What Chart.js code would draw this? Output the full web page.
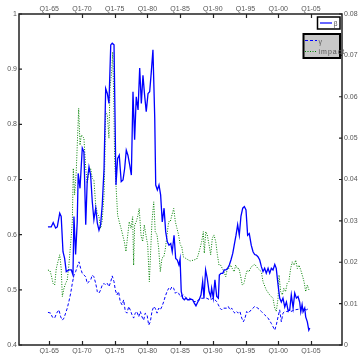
<!DOCTYPE html>
<html><head><meta charset="utf-8">
<script src="https://cdn.jsdelivr.net/npm/chart.js@4.4.1/dist/chart.umd.min.js"></script>
<style>html,body{margin:0;padding:0;background:#fff;}canvas{display:block;}</style>
</head><body>
<canvas id="c" width="360" height="354"></canvas>
<script>
// x positions are quarters counted from 1965Q1
const betaQ = [-0.8,1.2,2.4,3.9,4.9,6.4,7.3,8.4,9.4,10.4,12.0,13.5,14.5,15.1,16.1,17.1,17.7,18.8,20.2,21.2,22.3,23.2,24.3,25.3,26.3,27.3,28.4,29.4,30.4,31.4,32.4,33.5,34.5,35.5,36.5,37.6,38.5,39.6,40.8,41.8,42.8,44.0,45.1,46.1,47.1,48.1,49.2,50.2,51.2,52.2,53.2,54.3,55.3,56.3,57.3,58.3,59.3,60.4,61.4,62.4,63.4,64.5,65.1,66.1,67.1,68.1,69.1,70.2,71.2,72.2,73.2,74.3,75.2,76.3,77.3,78.3,79.3,80.0,80.7,81.6,82.6,83.6,84.6,85.6,86.7,87.7,88.7,89.7,90.8,91.7,92.8,93.8,94.6,95.6,96.6,97.7,98.7,99.3,100.3,101.3,102.4,103.4,104.0,105.0,106.1,107.0,108.1,109.1,110.1,111.1,112.2,113.1,114.2,115.2,116.2,117.2,118.3,119.3,120.3,121.3,122.3,123.5,124.6,125.6,126.6,127.6,128.7,129.7,130.7,131.7,132.7,133.8,134.8,135.8,136.8,137.9,138.8,139.9,140.9,141.9,142.9,144.0,145.0,146.0,147.0,148.0,149.1,150.1,151.1,152.1,153.1,153.8,154.6,155.2,156.2,156.8,157.8,158.7,159.3];
const betaV = [0.614,0.614,0.622,0.612,0.614,0.639,0.633,0.569,0.557,0.533,0.536,0.536,0.527,0.633,0.564,0.623,0.711,0.684,0.757,0.750,0.618,0.696,0.723,0.708,0.660,0.627,0.648,0.621,0.608,0.618,0.654,0.720,0.865,0.856,0.838,0.944,0.947,0.944,0.690,0.738,0.744,0.696,0.699,0.720,0.753,0.744,0.726,0.708,0.859,0.772,0.850,0.826,0.902,0.838,0.889,0.853,0.823,0.856,0.859,0.895,0.935,0.811,0.690,0.681,0.690,0.672,0.623,0.648,0.605,0.587,0.581,0.584,0.569,0.599,0.557,0.554,0.545,0.556,0.497,0.485,0.482,0.485,0.482,0.482,0.483,0.482,0.476,0.471,0.478,0.482,0.491,0.515,0.485,0.536,0.521,0.497,0.488,0.503,0.485,0.518,0.488,0.485,0.527,0.530,0.530,0.536,0.536,0.539,0.545,0.554,0.566,0.581,0.599,0.618,0.599,0.633,0.648,0.651,0.645,0.599,0.602,0.581,0.569,0.564,0.563,0.560,0.554,0.542,0.533,0.539,0.530,0.539,0.530,0.539,0.536,0.546,0.539,0.509,0.485,0.478,0.485,0.469,0.478,0.463,0.463,0.491,0.467,0.494,0.485,0.488,0.478,0.460,0.473,0.460,0.467,0.451,0.442,0.427,0.431];

const gammaQ = [-0.8,0.9,1.8,3.3,4.5,5.9,7.0,8.0,9.0,10.0,11.0,12.0,13.1,14.1,15.1,16.1,17.1,18.2,19.2,20.2,21.2,22.3,23.2,24.3,25.3,26.3,27.3,28.4,29.4,30.4,31.4,32.4,33.5,34.5,35.5,36.5,37.6,38.5,39.6,40.4,41.4,42.4,43.4,44.5,45.5,46.5,47.5,48.6,49.5,50.6,51.6,52.6,53.6,54.7,55.7,56.7,57.7,58.7,59.8,60.8,61.8,62.8,63.9,64.8,65.9,66.9,67.9,68.9,70.0,70.9,72.0,73.0,74.0,75.0,76.1,77.1,78.1,79.1,80.1,82.0,84.0,86.1,88.1,90.2,92.2,94.2,96.3,98.3,100.3,102.4,103.4,104.4,105.4,106.4,108.5,109.5,110.5,111.6,112.5,113.6,114.6,115.6,116.6,117.7,118.7,119.7,120.7,121.7,123.5,125.6,127.6,129.7,131.7,133.8,135.8,137.9,138.8,139.9,140.9,141.9,142.9,144.0,145.0,147.2,150.2,153.2,155.1,157.2,159.1];
const gammaV = [0.0079,0.0077,0.0068,0.0065,0.0077,0.0085,0.0068,0.0060,0.0065,0.0077,0.0089,0.0105,0.0125,0.0149,0.0169,0.0177,0.0189,0.0201,0.0185,0.0173,0.0169,0.0165,0.0149,0.0153,0.0157,0.0169,0.0165,0.0149,0.0129,0.0125,0.0133,0.0145,0.0149,0.0145,0.0149,0.0141,0.0153,0.0167,0.0153,0.0133,0.0121,0.0129,0.0105,0.0097,0.0109,0.0081,0.0077,0.0093,0.0085,0.0073,0.0065,0.0077,0.0081,0.0068,0.0081,0.0068,0.0060,0.0077,0.0073,0.0048,0.0056,0.0081,0.0093,0.0089,0.0077,0.0089,0.0085,0.0093,0.0105,0.0117,0.0129,0.0137,0.0133,0.0141,0.0137,0.0125,0.0129,0.0125,0.0117,0.0121,0.0113,0.0113,0.0105,0.0105,0.0113,0.0113,0.0113,0.0109,0.0113,0.0105,0.0097,0.0089,0.0085,0.0089,0.0089,0.0093,0.0085,0.0089,0.0081,0.0077,0.0081,0.0077,0.0081,0.0065,0.0056,0.0065,0.0081,0.0077,0.0085,0.0093,0.0089,0.0081,0.0073,0.0065,0.0052,0.0036,0.0048,0.0068,0.0085,0.0056,0.0077,0.0081,0.0081,0.0080,0.0085,0.0087,0.0089,0.0085,0.0089];

const impactQ = [-0.8,0.4,1.2,2.3,3.3,4.3,5.3,6.4,7.3,8.0,9.0,10.0,11.0,12.0,13.1,14.1,14.7,15.5,16.5,17.6,18.0,18.8,19.6,20.6,21.2,22.3,23.2,24.3,25.3,26.3,27.3,28.4,29.4,30.4,31.4,32.4,33.5,34.1,34.5,35.5,36.5,37.1,38.2,38.8,39.4,40.0,40.8,41.8,42.8,43.9,44.9,45.9,46.9,48.0,48.9,50.0,51.0,51.6,52.2,53.2,54.3,55.0,56.1,57.1,58.1,59.1,60.2,61.2,62.0,62.8,63.9,64.8,65.9,66.9,67.9,68.9,70.0,70.9,72.0,73.0,74.0,75.0,76.1,77.1,78.1,79.1,80.1,81.0,82.0,84.0,86.1,88.1,90.2,91.1,92.2,93.2,94.2,94.8,95.7,96.6,97.7,98.7,99.7,100.7,101.8,102.8,103.8,104.8,105.8,106.9,107.9,108.9,109.9,110.9,111.9,113.0,114.0,115.0,116.0,117.1,118.0,119.1,120.1,121.1,122.1,123.5,125.6,127.6,129.7,130.7,132.7,134.8,136.8,137.9,138.8,139.9,140.5,141.5,142.5,143.4,144.5,145.5,146.5,147.6,148.6,149.7,150.7,151.7,152.7,153.8,154.7,155.8,156.8,157.8,158.8];
const impactV = [0.0181,0.0180,0.0169,0.0149,0.0145,0.0185,0.0201,0.0218,0.0185,0.0117,0.0137,0.0149,0.0157,0.0193,0.0246,0.0298,0.0427,0.0363,0.0419,0.0532,0.0572,0.0483,0.0508,0.0503,0.0500,0.0427,0.0391,0.0419,0.0427,0.0403,0.0399,0.0338,0.0318,0.0310,0.0282,0.0302,0.0363,0.0467,0.0564,0.0556,0.0500,0.0620,0.0661,0.0708,0.0604,0.0443,0.0387,0.0314,0.0298,0.0282,0.0266,0.0250,0.0226,0.0266,0.0298,0.0282,0.0310,0.0193,0.0290,0.0298,0.0314,0.0330,0.0266,0.0250,0.0290,0.0266,0.0242,0.0153,0.0226,0.0298,0.0346,0.0274,0.0266,0.0234,0.0177,0.0210,0.0213,0.0230,0.0266,0.0298,0.0298,0.0314,0.0330,0.0298,0.0282,0.0266,0.0242,0.0238,0.0213,0.0208,0.0203,0.0205,0.0208,0.0218,0.0234,0.0250,0.0274,0.0222,0.0274,0.0266,0.0242,0.0218,0.0258,0.0266,0.0250,0.0218,0.0193,0.0193,0.0185,0.0177,0.0165,0.0185,0.0185,0.0193,0.0185,0.0177,0.0193,0.0185,0.0185,0.0165,0.0145,0.0149,0.0169,0.0181,0.0177,0.0189,0.0195,0.0185,0.0177,0.0153,0.0133,0.0121,0.0113,0.0089,0.0081,0.0113,0.0169,0.0129,0.0121,0.0137,0.0129,0.0149,0.0153,0.0185,0.0201,0.0193,0.0205,0.0185,0.0193,0.0181,0.0169,0.0153,0.0129,0.0145,0.0133];

const xTickQ = [0,20,40,60,80,100,120,140,160];
const xTickLabels = ['Q1-65','Q1-70','Q1-75','Q1-80','Q1-85','Q1-90','Q1-95','Q1-00','Q1-05'];
const seriesNames = ['\u03b2','\u03b3','impact'];

const pts = (q, v) => q.map((x, i) => ({x: x, y: v[i]}));
const FONT = {family: 'Liberation Sans, Arial, sans-serif', size: 7};
const TXT = '#555';

const xCommon = (pos, h) => ({
  type: 'linear', position: pos, min: -18.5, max: 179,
  grid: {display: false, drawTicks: false}, border: {display: false},
  afterBuildTicks: s => { s.ticks = xTickQ.map(v => ({value: v})); },
  afterFit: s => { s.height = h; },
  ticks: {font: FONT, color: TXT, padding: pos === 'top' ? 1 : 2, maxRotation: 0, autoSkip: false,
    callback: v => { const i = xTickQ.indexOf(v); return i >= 0 ? xTickLabels[i] : ''; }}
});

const framePlugin = {
  id: 'frame',
  afterDraw(chart) {
    const c = chart.ctx, a = chart.chartArea, s = chart.scales;
    c.save();
    c.strokeStyle = '#222'; c.lineWidth = 1.5;
    c.strokeRect(a.left, a.top, a.right - a.left, a.bottom - a.top);
    c.lineWidth = 1.2;
    c.beginPath();
    xTickQ.forEach(v => {
      const px = Math.round(s.x.getPixelForValue(v)) + 0.5;
      c.moveTo(px, a.top); c.lineTo(px, a.top + 4);
      c.moveTo(px, a.bottom); c.lineTo(px, a.bottom - 4);
    });
    s.y.ticks.forEach(t => { const py = s.y.getPixelForValue(t.value); c.moveTo(a.left, py); c.lineTo(a.left + 3, py); });
    s.yR.ticks.forEach(t => { const py = s.yR.getPixelForValue(t.value); c.moveTo(a.right, py); c.lineTo(a.right - 3, py); });
    c.stroke();

    // legend 1 (beta)
    const ds = chart.data.datasets;
    c.fillStyle = '#fff'; c.fillRect(317.5, 17, 22.5, 12);
    c.strokeStyle = '#000'; c.lineWidth = 1.5; c.strokeRect(317.5, 17, 22.5, 12);
    c.strokeStyle = ds[0].borderColor; c.lineWidth = 1.2; c.setLineDash([]);
    c.beginPath(); c.moveTo(320, 23); c.lineTo(332, 23); c.stroke();
    c.fillStyle = TXT; c.font = '7px Liberation Sans, Arial, sans-serif'; c.textBaseline = 'middle';
    c.fillText(seriesNames[0], 333.5, 24);

    // legend 2 (gamma, impact)
    c.fillStyle = '#c8c8c8'; c.fillRect(303.5, 34, 36.5, 24);
    c.strokeStyle = '#000'; c.lineWidth = 2; c.strokeRect(303.5, 34, 36.5, 24);
    c.strokeStyle = ds[1].borderColor; c.lineWidth = 1; c.setLineDash(ds[1].borderDash);
    c.beginPath(); c.moveTo(305, 40.5); c.lineTo(317, 40.5); c.stroke();
    c.strokeStyle = ds[2].borderColor; c.setLineDash(ds[2].borderDash);
    c.beginPath(); c.moveTo(305, 51.5); c.lineTo(317, 51.5); c.stroke();
    c.setLineDash([]);
    c.fillStyle = TXT;
    c.fillText(seriesNames[1], 318.5, 42.5);
    c.letterSpacing = '1px';
    c.fillText(seriesNames[2], 318.5, 52.5);
    c.restore();
  }
};

new Chart(document.getElementById('c'), {
  type: 'line',
  data: {datasets: [
    {label: seriesNames[0], data: pts(betaQ, betaV), yAxisID: 'y', xAxisID: 'x', borderColor: '#0000ff', borderWidth: 1.3, pointRadius: 0, tension: 0, fill: false},
    {label: seriesNames[1], data: pts(gammaQ, gammaV), yAxisID: 'yR', xAxisID: 'x', borderColor: '#0000ff', borderWidth: 1, borderDash: [3, 2], pointRadius: 0, tension: 0, fill: false},
    {label: seriesNames[2], data: pts(impactQ, impactV), yAxisID: 'yR', xAxisID: 'x', borderColor: '#008000', borderWidth: 1, borderDash: [1, 1.5], pointRadius: 0, tension: 0, fill: false}
  ]},
  options: {
    responsive: false, animation: false, parsing: true,
    layout: {padding: 0},
    plugins: {legend: {display: false}, tooltip: {enabled: false}},
    scales: {
      x: xCommon('bottom', 9),
      x2: xCommon('top', 14),
      y: {type: 'linear', position: 'left', min: 0.4, max: 1,
        grid: {display: false, drawTicks: false}, border: {display: false},
        afterFit: s => { s.width = 19; },
        ticks: {stepSize: 0.1, font: FONT, color: TXT, padding: 2, callback: v => String(Number(v.toFixed(2)))}},
      yR: {type: 'linear', position: 'right', min: 0, max: 0.08,
        grid: {display: false, drawTicks: false}, border: {display: false},
        afterFit: s => { s.width = 18; },
        ticks: {stepSize: 0.01, font: FONT, color: TXT, padding: 2, callback: v => String(Number(v.toFixed(3)))}}
    }
  },
  plugins: [framePlugin]
});
</script>
</body></html>
